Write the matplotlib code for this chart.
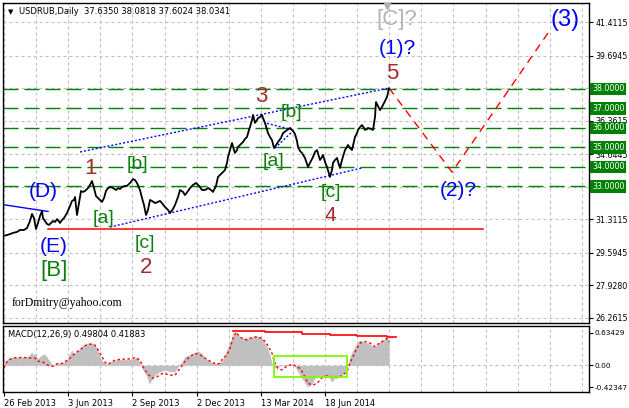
import matplotlib
matplotlib.use('Agg')
import matplotlib.pyplot as plt
import matplotlib.transforms as mtransforms
from matplotlib.patches import Rectangle

plt.rcParams['lines.scale_dashes'] = False

# ---------------- data ----------------
bars = [0, 4, 7, 10, 14, 17, 21, 24, 27, 29, 31, 33, 35, 37, 39, 40, 42, 44, 46, 48, 50, 52, 54, 57, 59, 61,
        64, 67, 69, 71, 72, 74, 76, 78, 80, 82, 85, 87, 89, 91, 93, 95, 97, 99, 101, 103, 105, 108, 110, 113,
        115, 117, 119, 122, 124, 127, 130, 132, 134, 137, 139, 141, 143, 145, 147, 149, 152, 155, 157, 159,
        162, 165, 167, 170, 172, 175, 177, 180, 182, 185, 187, 190, 193, 196, 199, 202, 205, 208, 210, 213,
        215, 218, 220, 222, 224, 225, 227, 229, 231, 232, 234, 235, 238, 240, 242, 244, 246, 247, 249, 250,
        252, 254, 255, 257, 259, 260, 262, 264, 265, 267, 269, 271, 273, 275, 278, 280, 283, 287, 290, 292,
        294, 295, 297, 299, 302, 305, 307, 310, 312, 314, 317, 319, 320, 322, 324, 327, 329, 330, 332, 334,
        336, 337, 339, 342, 344, 345, 347, 349, 351, 352, 354, 355, 357, 359, 361, 362, 364, 365, 368, 370,
        372, 373, 375, 377, 379, 380, 382, 384, 386]
close = [30.46, 30.51, 30.56, 30.62, 30.67, 30.77, 30.77, 30.87, 31.23, 31.59, 31.38, 30.82, 31.13, 31.49,
         31.74, 31.38, 31.23, 31.08, 31.03, 31.13, 31.23, 31.18, 31.33, 31.13, 31.28, 31.38,
         31.64, 32.00, 32.26, 32.31, 32.46, 31.54, 32.15, 32.77, 32.72, 32.77, 32.92, 33.08, 33.28, 32.92,
         32.51, 32.41, 32.31, 32.21, 32.41, 32.77, 32.92, 32.97, 32.92, 32.82,
         32.92, 32.87, 32.97, 33.03, 33.03, 33.18, 33.38, 33.33, 33.18, 32.82, 32.41, 32.05, 31.54, 31.80,
         32.31, 32.26, 32.15, 32.21, 32.26, 32.15,
         31.95, 31.80, 31.64, 31.85, 32.05, 32.46, 32.82, 32.72, 32.56, 32.77, 32.92, 33.08, 33.18, 33.03,
         32.82, 32.82, 32.92, 32.82, 32.72, 33.03,
         33.49, 33.64, 33.74, 33.85, 34.21, 34.51, 34.87, 35.23, 34.87, 34.72, 34.87, 35.03, 35.18, 35.28,
         35.44, 35.54, 35.90, 36.05, 36.41, 36.67,
         36.26, 36.41, 36.51, 36.56, 36.67, 36.51, 36.26, 35.90, 35.74, 35.54, 35.38, 34.97, 35.13, 35.28,
         35.49, 35.74, 35.85, 36.00, 35.85, 35.69,
         35.33, 35.03, 34.82, 34.72, 34.46, 34.00, 34.21, 34.51, 34.77, 34.87, 34.36, 34.51, 34.62, 34.26,
         34.00, 33.49, 33.85, 34.21, 34.36, 34.46,
         34.10, 33.95, 34.36, 34.87, 35.03, 35.13, 34.97, 34.87, 35.33, 35.54, 35.74, 35.90, 36.05, 36.15,
         36.00, 35.90, 35.95, 36.00, 35.95, 35.90,
         36.56, 37.33, 37.13, 36.92, 37.08, 37.18, 37.38, 37.59, 38.03]

hist_bars = [0, 2, 5, 9, 14, 20, 25, 29, 30, 32, 34, 35, 37, 39, 42, 45, 49, 50, 54, 59, 64, 67, 69, 70, 74,
             77, 80, 85, 90, 94, 97, 100, 104, 109, 114, 120, 125, 130, 134, 137, 140, 144, 146, 149, 152,
             157, 162, 167, 172, 175, 179, 182, 187, 192, 195, 199, 202, 205, 210, 215, 219, 222, 225, 228,
             230, 233, 235, 239, 242, 247, 252, 257, 260, 264, 267, 269, 272, 275, 279, 282, 285, 289, 292,
             295, 299, 302, 305, 309, 312, 315, 319, 322, 325, 329, 332, 335, 339, 342, 345, 347, 350, 354,
             357, 360, 365, 370, 374, 377, 380, 384, 386]
hist_vals = [-0.03, 0.07, 0.13, 0.15, 0.16, 0.16, 0.17, 0.26, 0.20, 0.23, 0.15, 0.13, 0.17, 0.20, 0.22,
             0.13, 0.02, 0.00, 0.04, 0.04, 0.10, 0.23, 0.30, 0.23, 0.26,
             0.33, 0.39, 0.43, 0.43, 0.33, 0.17, 0.07, 0.02, 0.08, 0.11, 0.11, 0.11, 0.13, 0.16, 0.04, -0.09,
             -0.22, -0.36, -0.28, -0.19,
             -0.12, -0.09, -0.12, -0.12, -0.03, 0.07, 0.17, 0.20, 0.25, 0.28, 0.23, 0.15, 0.10, 0.04, 0.04,
             0.08, 0.20, 0.36, 0.49,
             0.62, 0.63, 0.59, 0.52, 0.53, 0.53, 0.57, 0.55, 0.49, 0.36, 0.20, 0.04, -0.05, -0.03, 0.01, 0.02,
             -0.01, 0.02, -0.03,
             -0.12, -0.25, -0.35, -0.42, -0.36, -0.25, -0.19, -0.22, -0.19, -0.22, -0.32, -0.24, -0.22, -0.19,
             -0.12, 0.01, 0.17, 0.30, 0.43,
             0.49, 0.46, 0.43, 0.36, 0.39, 0.46, 0.49, 0.52, 0.50]

sig_bars = [1, 4, 9, 15, 22, 27, 32, 35, 39, 42, 45, 50, 54, 60, 67, 72, 77, 82, 87, 92, 95, 99, 102, 105,
            112, 119, 125, 132, 137, 140, 144, 149, 154, 160, 167, 172, 177, 182, 187, 192, 197, 202, 205,
            210, 214, 217, 220, 224, 227, 230, 233, 237, 240, 244, 249, 254, 259, 262, 265, 269, 272, 275,
            279, 284, 290, 294, 297, 300, 305, 310, 314, 319, 324, 329, 334, 339, 344, 347, 350, 354, 357,
            362, 367, 372, 375, 380, 384, 386]
sig_vals = [-0.05, 0.07, 0.14, 0.15, 0.15, 0.14, 0.14, 0.08, 0.07, 0.04, 0.00, -0.02, 0.03, 0.04, 0.14,
            0.23, 0.30, 0.38, 0.41, 0.39, 0.30, 0.17, 0.06, 0.02,
            0.10, 0.12, 0.12, 0.15, 0.10, -0.03, -0.15, -0.25, -0.22, -0.15, -0.19, -0.19, -0.06, 0.08, 0.17,
            0.23, 0.20, 0.14, 0.10,
            0.05, 0.02, 0.04, 0.14, 0.20, 0.33, 0.52, 0.64, 0.55, 0.51, 0.49, 0.54, 0.55, 0.52, 0.46, 0.38,
            0.23, 0.04, -0.06,
            -0.09, -0.01, 0.02, -0.03, -0.06, -0.15, -0.35, -0.38, -0.35, -0.24, -0.20, -0.22, -0.24, -0.20,
            -0.12, 0.04, 0.17, 0.33, 0.43,
            0.46, 0.43, 0.36, 0.41, 0.47, 0.52, 0.45]

macd_top_bars = [230, 262, 299, 327, 354, 384, 393]
macd_top_vals = [0.66, 0.64, 0.61, 0.59, 0.57, 0.555, 0.555]

levels = [38.0, 37.0, 36.0, 35.0, 34.0, 33.0]
price_ticks = [41.4115, 39.6945, 36.3615, 34.6445, 31.3115, 29.5945, 27.9280, 26.2615]
price_grid = [41.4115, 39.6945, 38.028, 36.3615, 34.6445, 32.978, 31.3115, 29.5945, 27.9280, 26.2615]
macd_ticks = [0.63429, 0.0, -0.42347]
macd_tick_labels = ['0.63429', '0.00', '-0.42347']
date_ticks = [1, 65.2, 129.4, 193.6, 257.8, 322.0]
date_labels = ['26 Feb 2013', '3 Jun 2013', '2 Sep 2013', '2 Dec 2013', '13 Mar 2014', '18 Jun 2014']

support_line = ([45, 480], [30.80, 30.80])
d_line = ([0, 45], [32.07, 31.72])
upper_channel = ([77, 386], [34.77, 38.05])
lower_channel = ([107, 359], [30.92, 33.95])
sub_line1 = ([264, 290], [36.24, 35.90])
sub_line2 = ([272, 289], [34.97, 35.80])
projection = ([386, 449, 545], [38.05, 33.74, 40.87])
box_rect = (271.3, -0.232, 72.4, 0.418)

BROWN = '#a52a2a'
GREEN = '#0a800a'
BLUE = '#0000ff'
GREY_T = '#b4b4b4'
wave_labels = [
    ('[C]?', 394, 41.54, GREY_T, 16),
    ('(1)?', 394, 40.10, BLUE, 15),
    ('5', 389, 38.82, BROWN, 16),
    ('(3)', 562, 41.54, BLUE, 17),
    ('(2)?', 455, 32.82, BLUE, 15),
    ('4', 327, 31.49, BROWN, 15),
    ('[c]', 328, 32.67, GREEN, 14),
    ('3', 258, 37.59, BROWN, 16),
    ('[b]', 288, 36.77, GREEN, 14),
    ('[a]', 270, 34.26, GREEN, 14),
    ('1', 88, 33.90, BROWN, 16),
    ('[b]', 134, 34.15, GREEN, 14),
    ('(D)', 40, 32.72, BLUE, 15),
    ('[a]', 100, 31.38, GREEN, 14),
    ('(E)', 51, 29.90, BLUE, 15),
    ('[B]', 51, 28.67, GREEN, 16),
    ('[c]', 142, 30.10, GREEN, 14),
    ('2', 143, 28.87, BROWN, 16),
]

# ---------------- layout ----------------
W, H = 629, 408
fig = plt.figure(figsize=(W / 100, H / 100), dpi=100)


def px_axes(l, t, r, b):
    return fig.add_axes([l / W, 1 - b / H, (r - l) / W, (b - t) / H])


def pts(*p):
    return tuple(v * 0.72 for v in p)


ax = px_axes(3, 3, 589, 323)
axm = px_axes(3, 326, 589, 392)
XMAX = 586
GRID_C = '#c0c0c0'
FONT_S = 'DejaVu Sans'
FONT_L = 'Liberation Sans'
LAB_FS = 5.7

for a in (ax, axm):
    a.set_xlim(0, XMAX)
    for s in a.spines.values():
        s.set_linewidth(1.0)
        s.set_color('black')
    k = 0
    while 1 + 32.1 * k < XMAX:
        a.axvline(1 + 32.1 * k, color=GRID_C, lw=0.8, dashes=pts(3, 3), zorder=0)
        k += 1

ax.set_ylim(26.0, 42.41)
for g in price_grid:
    ax.axhline(g, color=GRID_C, lw=0.8, dashes=pts(3, 3), zorder=0)

for lv in levels:
    ax.axhline(lv, color='#008000', lw=1.0, dashes=pts(15, 6), zorder=1)

ax.plot(*support_line, color='red', lw=1.1, zorder=2)
ax.plot(*d_line, color=BLUE, lw=1.0, zorder=2)
for seg in (upper_channel, lower_channel, sub_line1, sub_line2):
    ax.plot(*seg, color=BLUE, lw=1.0, dashes=pts(2, 2), zorder=2)
ax.plot(*projection, color='red', lw=1.0, dashes=pts(8, 6), zorder=2)

ax.plot(bars, close, color='black', lw=1.3, zorder=3)

for s, x, y, c, fs in wave_labels:
    ax.text(x, y, s, ha='center', va='center', color=c, fontsize=fs, family=FONT_L, zorder=4)

ax.yaxis.tick_right()
ax.set_yticks(price_ticks)
ax.set_yticklabels(['%.4f' % v for v in price_ticks])
ax.tick_params(axis='y', direction='out', length=3, width=0.8, labelsize=LAB_FS, pad=1.5)
ax.set_xticks([])
for t in ax.get_yticklabels():
    t.set_family(FONT_S)

trans = mtransforms.blended_transform_factory(ax.transAxes, ax.transData)
for lv in levels:
    ax.text(1 + 3 / XMAX, lv, '%.4f' % lv, transform=trans, ha='left', va='center', color='white',
            fontsize=LAB_FS, family=FONT_S, clip_on=False, zorder=10,
            bbox=dict(boxstyle='square,pad=0.2', fc='#008000', ec='none'))

# top marker
ax.plot([384], [0.99], marker='v', color='#b0b0b0', ms=4.5, transform=mtransforms.blended_transform_factory(
    ax.transData, ax.transAxes), clip_on=False, zorder=5)

# ---------------- MACD ----------------
axm.set_ylim(-0.516, 0.760)
axm.axhline(0, color=GRID_C, lw=0.8, dashes=pts(3, 3), zorder=0)
axm.fill_between(hist_bars, 0, hist_vals, color='#c0c0c0', lw=0, zorder=1)
axm.plot(sig_bars, sig_vals, color='red', lw=1.0, dashes=pts(2.5, 2.5), zorder=3)
axm.step(macd_top_bars, macd_top_vals, where='post', color='red', lw=1.2, zorder=3)
axm.add_patch(Rectangle(box_rect[:2], box_rect[2], box_rect[3], fill=False, ec='#7cfc00', lw=1.3, zorder=4))

axm.yaxis.tick_right()
axm.set_yticks(macd_ticks)
axm.set_yticklabels(macd_tick_labels)
axm.tick_params(axis='y', direction='out', length=3, width=0.8, labelsize=5.3, pad=1.0)
axm.set_xticks(date_ticks)
axm.set_xticklabels(date_labels, ha='left')
axm.tick_params(axis='x', direction='out', length=3, width=0.8, labelsize=6, pad=2)
for t in axm.get_xticklabels() + axm.get_yticklabels():
    t.set_family(FONT_S)

# ---------------- texts ----------------
fig.text(8 / W, 1 - 12 / H, '\u25bc', fontsize=5, family=FONT_S, va='center', ha='left')
fig.text(19 / W, 1 - 12 / H, 'USDRUB,Daily  37.6350 38.0818 37.6024 38.0341', fontsize=6, family=FONT_S,
         va='center', ha='left')
fig.text(12 / W, 1 - 303 / H, 'forDmitry@yahoo.com', fontsize=8.5, family='Liberation Serif',
         va='center', ha='left')
fig.text(8 / W, 1 - 334 / H, 'MACD(12,26,9) 0.49804 0.41883', fontsize=6, family=FONT_S,
         va='center', ha='left')

fig.savefig('out.png', dpi=100, facecolor='white')
